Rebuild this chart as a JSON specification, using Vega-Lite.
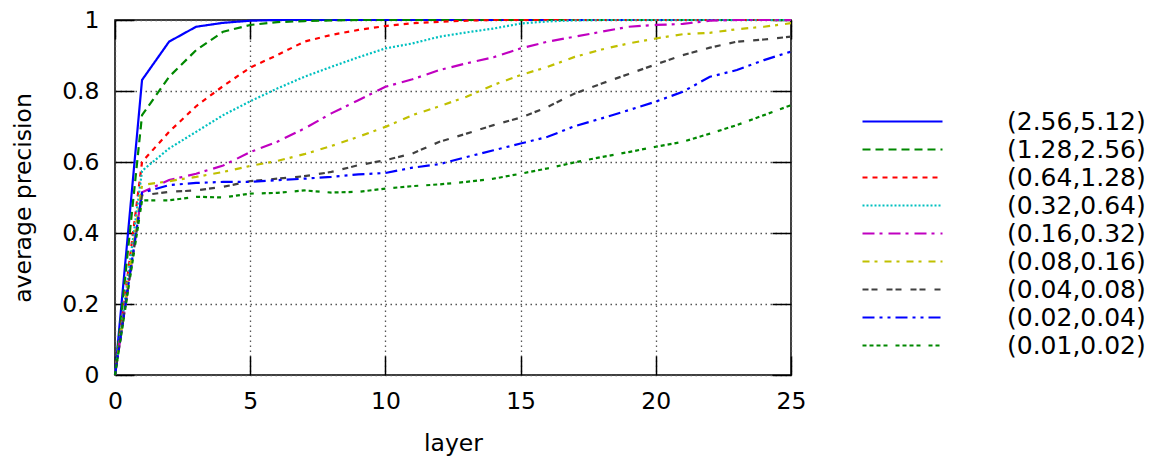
{
  "$schema": "https://vega.github.io/schema/vega-lite/v6.json",
  "width": 676,
  "height": 355,
  "autosize": {"type": "none"},
  "padding": {"left": 115, "top": 20, "right": 359, "bottom": 84},
  "background": "white",
  "config": {
    "view": {"stroke": "black", "strokeWidth": 1.5},
    "font": "DejaVu Sans",
    "axis": {
      "labelFontSize": 23.5,
      "titleFontSize": 23.5,
      "titleFontWeight": "normal",
      "labelColor": "black",
      "titleColor": "black",
      "domain": false,
      "tickColor": "black",
      "tickWidth": 1.5,
      "gridColor": "#555555",
      "gridDash": [1.5, 3.5],
      "gridWidth": 1.3,
      "labelFlush": false
    },
    "legend": {
      "labelFontSize": 25,
      "labelColor": "black"
    }
  },
  "data": {
    "values": [
      {"s": "(2.56,5.12)", "x": 0, "y": 0}, {"s": "(2.56,5.12)", "x": 1, "y": 0.831}, {"s": "(2.56,5.12)", "x": 2, "y": 0.939}, {"s": "(2.56,5.12)", "x": 3, "y": 0.981}, {"s": "(2.56,5.12)", "x": 4, "y": 0.992}, {"s": "(2.56,5.12)", "x": 5, "y": 0.998}, {"s": "(2.56,5.12)", "x": 6, "y": 1}, {"s": "(2.56,5.12)", "x": 7, "y": 1}, {"s": "(2.56,5.12)", "x": 8, "y": 1}, {"s": "(2.56,5.12)", "x": 9, "y": 1}, {"s": "(2.56,5.12)", "x": 10, "y": 1}, {"s": "(2.56,5.12)", "x": 11, "y": 1}, {"s": "(2.56,5.12)", "x": 12, "y": 1}, {"s": "(2.56,5.12)", "x": 13, "y": 1}, {"s": "(2.56,5.12)", "x": 14, "y": 1}, {"s": "(2.56,5.12)", "x": 15, "y": 1}, {"s": "(2.56,5.12)", "x": 16, "y": 1}, {"s": "(2.56,5.12)", "x": 17, "y": 1}, {"s": "(2.56,5.12)", "x": 18, "y": 1}, {"s": "(2.56,5.12)", "x": 19, "y": 1}, {"s": "(2.56,5.12)", "x": 20, "y": 1}, {"s": "(2.56,5.12)", "x": 21, "y": 1}, {"s": "(2.56,5.12)", "x": 22, "y": 1}, {"s": "(2.56,5.12)", "x": 23, "y": 1}, {"s": "(2.56,5.12)", "x": 24, "y": 1}, {"s": "(2.56,5.12)", "x": 25, "y": 1},
      {"s": "(1.28,2.56)", "x": 0, "y": 0}, {"s": "(1.28,2.56)", "x": 1, "y": 0.732}, {"s": "(1.28,2.56)", "x": 2, "y": 0.84}, {"s": "(1.28,2.56)", "x": 3, "y": 0.915}, {"s": "(1.28,2.56)", "x": 4, "y": 0.967}, {"s": "(1.28,2.56)", "x": 5, "y": 0.986}, {"s": "(1.28,2.56)", "x": 6, "y": 0.994}, {"s": "(1.28,2.56)", "x": 7, "y": 0.997}, {"s": "(1.28,2.56)", "x": 8, "y": 0.999}, {"s": "(1.28,2.56)", "x": 9, "y": 1}, {"s": "(1.28,2.56)", "x": 10, "y": 1}, {"s": "(1.28,2.56)", "x": 11, "y": 1}, {"s": "(1.28,2.56)", "x": 12, "y": 1}, {"s": "(1.28,2.56)", "x": 13, "y": 1}, {"s": "(1.28,2.56)", "x": 14, "y": 1}, {"s": "(1.28,2.56)", "x": 15, "y": 1}, {"s": "(1.28,2.56)", "x": 16, "y": 1}, {"s": "(1.28,2.56)", "x": 17, "y": 1}, {"s": "(1.28,2.56)", "x": 18, "y": 1}, {"s": "(1.28,2.56)", "x": 19, "y": 1}, {"s": "(1.28,2.56)", "x": 20, "y": 1}, {"s": "(1.28,2.56)", "x": 21, "y": 1}, {"s": "(1.28,2.56)", "x": 22, "y": 1}, {"s": "(1.28,2.56)", "x": 23, "y": 1}, {"s": "(1.28,2.56)", "x": 24, "y": 1}, {"s": "(1.28,2.56)", "x": 25, "y": 1},
      {"s": "(0.64,1.28)", "x": 0, "y": 0}, {"s": "(0.64,1.28)", "x": 1, "y": 0.6}, {"s": "(0.64,1.28)", "x": 2, "y": 0.685}, {"s": "(0.64,1.28)", "x": 3, "y": 0.757}, {"s": "(0.64,1.28)", "x": 4, "y": 0.814}, {"s": "(0.64,1.28)", "x": 5, "y": 0.866}, {"s": "(0.64,1.28)", "x": 6, "y": 0.901}, {"s": "(0.64,1.28)", "x": 7, "y": 0.939}, {"s": "(0.64,1.28)", "x": 8, "y": 0.958}, {"s": "(0.64,1.28)", "x": 9, "y": 0.972}, {"s": "(0.64,1.28)", "x": 10, "y": 0.983}, {"s": "(0.64,1.28)", "x": 11, "y": 0.991}, {"s": "(0.64,1.28)", "x": 12, "y": 0.995}, {"s": "(0.64,1.28)", "x": 13, "y": 0.998}, {"s": "(0.64,1.28)", "x": 14, "y": 1}, {"s": "(0.64,1.28)", "x": 15, "y": 1}, {"s": "(0.64,1.28)", "x": 16, "y": 1}, {"s": "(0.64,1.28)", "x": 17, "y": 1}, {"s": "(0.64,1.28)", "x": 18, "y": 1}, {"s": "(0.64,1.28)", "x": 19, "y": 1}, {"s": "(0.64,1.28)", "x": 20, "y": 1}, {"s": "(0.64,1.28)", "x": 21, "y": 1}, {"s": "(0.64,1.28)", "x": 22, "y": 1}, {"s": "(0.64,1.28)", "x": 23, "y": 1}, {"s": "(0.64,1.28)", "x": 24, "y": 1}, {"s": "(0.64,1.28)", "x": 25, "y": 1},
      {"s": "(0.32,0.64)", "x": 0, "y": 0}, {"s": "(0.32,0.64)", "x": 1, "y": 0.575}, {"s": "(0.32,0.64)", "x": 2, "y": 0.638}, {"s": "(0.32,0.64)", "x": 3, "y": 0.685}, {"s": "(0.32,0.64)", "x": 4, "y": 0.732}, {"s": "(0.32,0.64)", "x": 5, "y": 0.771}, {"s": "(0.32,0.64)", "x": 6, "y": 0.807}, {"s": "(0.32,0.64)", "x": 7, "y": 0.84}, {"s": "(0.32,0.64)", "x": 8, "y": 0.868}, {"s": "(0.32,0.64)", "x": 9, "y": 0.895}, {"s": "(0.32,0.64)", "x": 10, "y": 0.92}, {"s": "(0.32,0.64)", "x": 11, "y": 0.934}, {"s": "(0.32,0.64)", "x": 12, "y": 0.953}, {"s": "(0.32,0.64)", "x": 13, "y": 0.965}, {"s": "(0.32,0.64)", "x": 14, "y": 0.976}, {"s": "(0.32,0.64)", "x": 15, "y": 0.99}, {"s": "(0.32,0.64)", "x": 16, "y": 0.996}, {"s": "(0.32,0.64)", "x": 17, "y": 0.999}, {"s": "(0.32,0.64)", "x": 18, "y": 1}, {"s": "(0.32,0.64)", "x": 19, "y": 1}, {"s": "(0.32,0.64)", "x": 20, "y": 1}, {"s": "(0.32,0.64)", "x": 21, "y": 1}, {"s": "(0.32,0.64)", "x": 22, "y": 1}, {"s": "(0.32,0.64)", "x": 23, "y": 1}, {"s": "(0.32,0.64)", "x": 24, "y": 1}, {"s": "(0.32,0.64)", "x": 25, "y": 1},
      {"s": "(0.16,0.32)", "x": 0, "y": 0}, {"s": "(0.16,0.32)", "x": 1, "y": 0.515}, {"s": "(0.16,0.32)", "x": 2, "y": 0.549}, {"s": "(0.16,0.32)", "x": 3, "y": 0.567}, {"s": "(0.16,0.32)", "x": 4, "y": 0.59}, {"s": "(0.16,0.32)", "x": 5, "y": 0.628}, {"s": "(0.16,0.32)", "x": 6, "y": 0.657}, {"s": "(0.16,0.32)", "x": 7, "y": 0.694}, {"s": "(0.16,0.32)", "x": 8, "y": 0.737}, {"s": "(0.16,0.32)", "x": 9, "y": 0.774}, {"s": "(0.16,0.32)", "x": 10, "y": 0.812}, {"s": "(0.16,0.32)", "x": 11, "y": 0.833}, {"s": "(0.16,0.32)", "x": 12, "y": 0.859}, {"s": "(0.16,0.32)", "x": 13, "y": 0.878}, {"s": "(0.16,0.32)", "x": 14, "y": 0.895}, {"s": "(0.16,0.32)", "x": 15, "y": 0.92}, {"s": "(0.16,0.32)", "x": 16, "y": 0.939}, {"s": "(0.16,0.32)", "x": 17, "y": 0.953}, {"s": "(0.16,0.32)", "x": 18, "y": 0.967}, {"s": "(0.16,0.32)", "x": 19, "y": 0.981}, {"s": "(0.16,0.32)", "x": 20, "y": 0.986}, {"s": "(0.16,0.32)", "x": 21, "y": 0.989}, {"s": "(0.16,0.32)", "x": 22, "y": 0.998}, {"s": "(0.16,0.32)", "x": 23, "y": 1}, {"s": "(0.16,0.32)", "x": 24, "y": 1}, {"s": "(0.16,0.32)", "x": 25, "y": 1},
      {"s": "(0.08,0.16)", "x": 0, "y": 0}, {"s": "(0.08,0.16)", "x": 1, "y": 0.535}, {"s": "(0.08,0.16)", "x": 2, "y": 0.546}, {"s": "(0.08,0.16)", "x": 3, "y": 0.558}, {"s": "(0.08,0.16)", "x": 4, "y": 0.572}, {"s": "(0.08,0.16)", "x": 5, "y": 0.589}, {"s": "(0.08,0.16)", "x": 6, "y": 0.603}, {"s": "(0.08,0.16)", "x": 7, "y": 0.622}, {"s": "(0.08,0.16)", "x": 8, "y": 0.645}, {"s": "(0.08,0.16)", "x": 9, "y": 0.671}, {"s": "(0.08,0.16)", "x": 10, "y": 0.699}, {"s": "(0.08,0.16)", "x": 11, "y": 0.732}, {"s": "(0.08,0.16)", "x": 12, "y": 0.757}, {"s": "(0.08,0.16)", "x": 13, "y": 0.784}, {"s": "(0.08,0.16)", "x": 14, "y": 0.817}, {"s": "(0.08,0.16)", "x": 15, "y": 0.845}, {"s": "(0.08,0.16)", "x": 16, "y": 0.868}, {"s": "(0.08,0.16)", "x": 17, "y": 0.896}, {"s": "(0.08,0.16)", "x": 18, "y": 0.917}, {"s": "(0.08,0.16)", "x": 19, "y": 0.934}, {"s": "(0.08,0.16)", "x": 20, "y": 0.948}, {"s": "(0.08,0.16)", "x": 21, "y": 0.96}, {"s": "(0.08,0.16)", "x": 22, "y": 0.964}, {"s": "(0.08,0.16)", "x": 23, "y": 0.974}, {"s": "(0.08,0.16)", "x": 24, "y": 0.981}, {"s": "(0.08,0.16)", "x": 25, "y": 0.991},
      {"s": "(0.04,0.08)", "x": 0, "y": 0}, {"s": "(0.04,0.08)", "x": 1, "y": 0.506}, {"s": "(0.04,0.08)", "x": 2, "y": 0.516}, {"s": "(0.04,0.08)", "x": 3, "y": 0.52}, {"s": "(0.04,0.08)", "x": 4, "y": 0.53}, {"s": "(0.04,0.08)", "x": 5, "y": 0.546}, {"s": "(0.04,0.08)", "x": 6, "y": 0.553}, {"s": "(0.04,0.08)", "x": 7, "y": 0.56}, {"s": "(0.04,0.08)", "x": 8, "y": 0.572}, {"s": "(0.04,0.08)", "x": 9, "y": 0.591}, {"s": "(0.04,0.08)", "x": 10, "y": 0.605}, {"s": "(0.04,0.08)", "x": 11, "y": 0.624}, {"s": "(0.04,0.08)", "x": 12, "y": 0.657}, {"s": "(0.04,0.08)", "x": 13, "y": 0.68}, {"s": "(0.04,0.08)", "x": 14, "y": 0.704}, {"s": "(0.04,0.08)", "x": 15, "y": 0.725}, {"s": "(0.04,0.08)", "x": 16, "y": 0.755}, {"s": "(0.04,0.08)", "x": 17, "y": 0.793}, {"s": "(0.04,0.08)", "x": 18, "y": 0.821}, {"s": "(0.04,0.08)", "x": 19, "y": 0.848}, {"s": "(0.04,0.08)", "x": 20, "y": 0.875}, {"s": "(0.04,0.08)", "x": 21, "y": 0.901}, {"s": "(0.04,0.08)", "x": 22, "y": 0.922}, {"s": "(0.04,0.08)", "x": 23, "y": 0.939}, {"s": "(0.04,0.08)", "x": 24, "y": 0.945}, {"s": "(0.04,0.08)", "x": 25, "y": 0.953},
      {"s": "(0.02,0.04)", "x": 0, "y": 0}, {"s": "(0.02,0.04)", "x": 1, "y": 0.513}, {"s": "(0.02,0.04)", "x": 2, "y": 0.535}, {"s": "(0.02,0.04)", "x": 3, "y": 0.541}, {"s": "(0.02,0.04)", "x": 4, "y": 0.544}, {"s": "(0.02,0.04)", "x": 5, "y": 0.544}, {"s": "(0.02,0.04)", "x": 6, "y": 0.549}, {"s": "(0.02,0.04)", "x": 7, "y": 0.553}, {"s": "(0.02,0.04)", "x": 8, "y": 0.558}, {"s": "(0.02,0.04)", "x": 9, "y": 0.565}, {"s": "(0.02,0.04)", "x": 10, "y": 0.569}, {"s": "(0.02,0.04)", "x": 11, "y": 0.584}, {"s": "(0.02,0.04)", "x": 12, "y": 0.594}, {"s": "(0.02,0.04)", "x": 13, "y": 0.614}, {"s": "(0.02,0.04)", "x": 14, "y": 0.633}, {"s": "(0.02,0.04)", "x": 15, "y": 0.652}, {"s": "(0.02,0.04)", "x": 16, "y": 0.671}, {"s": "(0.02,0.04)", "x": 17, "y": 0.701}, {"s": "(0.02,0.04)", "x": 18, "y": 0.723}, {"s": "(0.02,0.04)", "x": 19, "y": 0.746}, {"s": "(0.02,0.04)", "x": 20, "y": 0.77}, {"s": "(0.02,0.04)", "x": 21, "y": 0.798}, {"s": "(0.02,0.04)", "x": 22, "y": 0.84}, {"s": "(0.02,0.04)", "x": 23, "y": 0.859}, {"s": "(0.02,0.04)", "x": 24, "y": 0.887}, {"s": "(0.02,0.04)", "x": 25, "y": 0.911},
      {"s": "(0.01,0.02)", "x": 0, "y": 0}, {"s": "(0.01,0.02)", "x": 1, "y": 0.492}, {"s": "(0.01,0.02)", "x": 2, "y": 0.492}, {"s": "(0.01,0.02)", "x": 3, "y": 0.502}, {"s": "(0.01,0.02)", "x": 4, "y": 0.5}, {"s": "(0.01,0.02)", "x": 5, "y": 0.511}, {"s": "(0.01,0.02)", "x": 6, "y": 0.513}, {"s": "(0.01,0.02)", "x": 7, "y": 0.52}, {"s": "(0.01,0.02)", "x": 8, "y": 0.514}, {"s": "(0.01,0.02)", "x": 9, "y": 0.516}, {"s": "(0.01,0.02)", "x": 10, "y": 0.525}, {"s": "(0.01,0.02)", "x": 11, "y": 0.532}, {"s": "(0.01,0.02)", "x": 12, "y": 0.537}, {"s": "(0.01,0.02)", "x": 13, "y": 0.544}, {"s": "(0.01,0.02)", "x": 14, "y": 0.553}, {"s": "(0.01,0.02)", "x": 15, "y": 0.567}, {"s": "(0.01,0.02)", "x": 16, "y": 0.582}, {"s": "(0.01,0.02)", "x": 17, "y": 0.599}, {"s": "(0.01,0.02)", "x": 18, "y": 0.614}, {"s": "(0.01,0.02)", "x": 19, "y": 0.628}, {"s": "(0.01,0.02)", "x": 20, "y": 0.643}, {"s": "(0.01,0.02)", "x": 21, "y": 0.657}, {"s": "(0.01,0.02)", "x": 22, "y": 0.68}, {"s": "(0.01,0.02)", "x": 23, "y": 0.704}, {"s": "(0.01,0.02)", "x": 24, "y": 0.732}, {"s": "(0.01,0.02)", "x": 25, "y": 0.76}
    ]
  },
  "layer": [
    {
      "mark": {"type": "line", "strokeWidth": 2.2, "strokeCap": "butt", "strokeJoin": "miter"},
      "encoding": {
        "x": {
          "field": "x", "type": "quantitative",
          "scale": {"domain": [0, 25], "nice": false, "zero": false},
          "axis": {"orient": "bottom", "values": [0, 5, 10, 15, 20, 25], "title": "layer", "grid": true, "tickSize": -19, "labelPadding": 33, "titlePadding": 19}
        },
        "y": {
          "field": "y", "type": "quantitative",
          "scale": {"domain": [0, 1], "nice": false},
          "axis": {"orient": "left", "values": [0, 0.2, 0.4, 0.6, 0.8, 1], "format": "~g", "title": "average precision", "grid": true, "tickSize": -19, "labelPadding": 35, "titlePadding": 26}
        },
        "color": {
          "field": "s", "type": "nominal", "sort": null,
          "scale": {
            "domain": ["(2.56,5.12)", "(1.28,2.56)", "(0.64,1.28)", "(0.32,0.64)", "(0.16,0.32)", "(0.08,0.16)", "(0.04,0.08)", "(0.02,0.04)", "(0.01,0.02)"],
            "range": ["#0000ff", "#008800", "#ff0000", "#00c0c0", "#c000c0", "#c0c000", "#404040", "#0000ff", "#008800"]
          },
          "legend": {
            "title": null,
            "orient": "none",
            "legendX": 735,
            "legendY": 89,
            "padding": 0,
            "symbolType": "M0,0H8",
            "symbolSize": 400,
            "symbolStrokeWidth": 2,
            "labelOffset": 132,
            "labelLimit": 400,
            "labelFontSize": 25,
            "rowPadding": 2
          }
        },
        "strokeDash": {
          "field": "s", "type": "nominal", "sort": null,
          "scale": {
            "domain": ["(2.56,5.12)", "(1.28,2.56)", "(0.64,1.28)", "(0.32,0.64)", "(0.16,0.32)", "(0.08,0.16)", "(0.04,0.08)", "(0.02,0.04)", "(0.01,0.02)"],
            "range": [[1, 0], [8, 5], [5, 5], [2, 2], [12, 5, 3, 6], [7, 5, 3, 7], [6, 3, 6, 9], [12, 5, 3, 5, 3, 5], [4, 3, 4, 3, 4, 3, 4, 8]]
          },
          "legend": {
            "title": null,
            "orient": "none",
            "legendX": 735,
            "legendY": 89,
            "padding": 0,
            "symbolType": "M0,0H8",
            "symbolSize": 400,
            "symbolStrokeWidth": 2,
            "labelOffset": 132,
            "labelLimit": 400,
            "labelFontSize": 25,
            "rowPadding": 2
          }
        }
      }
    },
    {
      "mark": {"type": "line", "opacity": 0},
      "encoding": {
        "x": {
          "field": "x", "type": "quantitative",
          "axis": {"orient": "top", "values": [0, 5, 10, 15, 20, 25], "labels": false, "title": null, "grid": false, "tickSize": -19}
        },
        "y": {
          "field": "y", "type": "quantitative",
          "axis": {"orient": "right", "values": [0, 0.2, 0.4, 0.6, 0.8, 1], "labels": false, "title": null, "grid": false, "tickSize": -19}
        },
        "detail": {"field": "s", "type": "nominal"}
      }
    }
  ],
  "resolve": {"axis": {"x": "independent", "y": "independent"}}
}
